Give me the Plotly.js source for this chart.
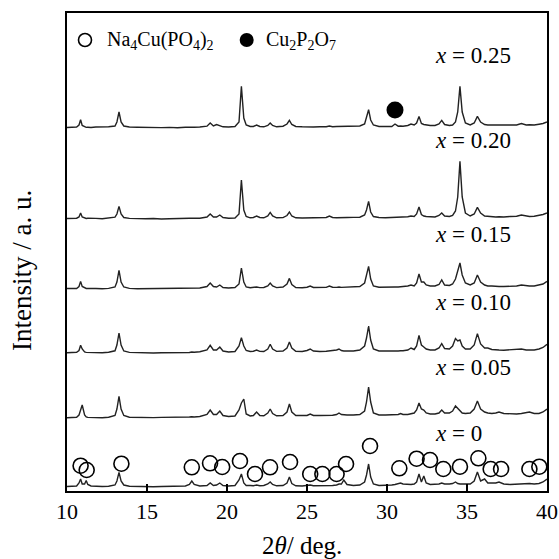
<!DOCTYPE html>
<html>
<head>
<meta charset="utf-8">
<script src="https://cdn.plot.ly/plotly-3.0.1.min.js"></script>
<style>html,body{margin:0;padding:0;background:#fff;}#chart{width:559px;height:559px;}</style>
</head>
<body>
<div id="chart"></div>
<script>
// 2-theta positions (deg) shared by all patterns
const twoTheta = [
 10.0, 10.3, 10.6, 10.75, 10.85, 10.95, 11.1, 11.2, 11.3, 11.5,
 11.8, 12.2, 12.6, 13.0, 13.12, 13.25, 13.38, 13.55, 13.9, 14.4,
 14.9, 15.4, 15.9, 16.4, 16.9, 17.4, 17.65, 17.8, 17.95, 18.3,
 18.75, 18.95, 19.15, 19.35, 19.55, 19.75, 20.1, 20.5, 20.75, 20.9,
 21.05, 21.2, 21.45, 21.65, 21.85, 22.05, 22.3, 22.55, 22.7, 22.85,
 23.1, 23.5, 23.75, 23.9, 24.05, 24.3, 24.7, 25.0, 25.2, 25.4,
 25.8, 26.2, 26.4, 26.6, 26.85, 27.0, 27.15, 27.3, 27.5, 27.9,
 28.3, 28.6, 28.72, 28.85, 28.98, 29.15, 29.5, 29.9, 30.3, 30.5,
 30.7, 30.85, 31.0, 31.3, 31.5, 31.7, 31.85, 32.0, 32.15, 32.3,
 32.45, 32.7, 33.0, 33.25, 33.42, 33.6, 33.9, 34.1, 34.28, 34.42,
 34.56, 34.7, 34.9, 35.2, 35.45, 35.65, 35.85, 36.1, 36.3, 36.55,
 36.8, 37.0, 37.3, 37.7, 38.1, 38.4, 38.7, 38.9, 39.2, 39.5,
 39.75, 40.0
];

// Intensities (a.u.) of each pattern
const int_x000 = [
 0.5, 0.8, 1, 4, 8, 3, 3, 6.5, 2.5, 1,
 0.6, 0.5, 0.8, 2, 6, 14.6, 6, 2, 0.8, 0.5,
 0.6, 0.3, 0.5, 0.6, 0.4, 1, 2.5, 6, 2.5, 1,
 1.5, 4, 1.5, 2, 4, 1.5, 1, 1.5, 7, 13,
 4, 1.5, 1.5, 1.2, 2, 1.2, 1.5, 3, 5, 2.5,
 1.2, 1.5, 4, 10, 3.5, 1.2, 1, 1.2, 2, 1.2,
 1.2, 1.3, 1.5, 1.5, 2, 3, 3, 7, 2.5, 1.5,
 2, 5, 12, 23, 10, 3, 1.5, 1.5, 2, 2.5,
 3, 4, 3, 2.5, 2.5, 3, 5, 13, 5, 11,
 4, 2.5, 2.5, 3, 4, 3, 3, 3.5, 5, 3.5,
 3, 3, 3, 3, 6, 15, 6, 8, 4, 4,
 4, 5, 3, 2.5, 3, 3, 3.5, 3.5, 3, 3.5,
 5, 8
];
const int_x005 = [
 0.3, 0.5, 0.8, 3, 9, 13, 3, 1, 0.6, 0.4,
 0.5, 0.3, 0.8, 2.5, 9, 21.6, 9, 2.5, 0.8, 0.5,
 0.6, 0.4, 0.6, 0.5, 0.7, 0.8, 1, 1.2, 1, 1.5,
 3.5, 8, 3.5, 3.5, 7, 2.5, 1.5, 2, 8, 15,
 19, 4, 2, 2.5, 6, 2.5, 2.2, 5, 9, 4.5,
 2.2, 2.5, 6, 14, 6, 2.5, 2.2, 2.5, 4, 2.5,
 2.5, 2.5, 2.8, 2.8, 3.5, 5, 3.5, 3, 3, 3,
 3.5, 7, 16, 31, 16, 5, 3, 3, 3, 3,
 3.5, 4.5, 3.5, 3.5, 4, 5, 8, 15, 9, 8,
 5, 4, 4, 5, 8, 5, 5, 7, 12, 10,
 8, 5, 4.5, 5, 9, 17, 9, 6, 5, 4.5,
 5, 6, 4.5, 4, 4, 4.5, 5, 6, 4.5, 4.5,
 6, 9
];
const int_x010 = [
 0.3, 0.6, 0.8, 2.5, 7.7, 4, 1, 0.6, 0.5, 0.4,
 0.6, 0.3, 0.8, 2.2, 8, 20, 8, 2, 0.6, 0.2,
 0.4, 0, 0.3, 0.2, 0.4, 0.6, 0.5, 1, 0.8, 1.2,
 3, 7.7, 3, 3, 6, 2, 1, 1.5, 7, 15.4,
 7, 2.5, 1.5, 1.8, 3, 1.6, 1.5, 4, 8.7, 4,
 1.6, 2, 5, 11, 5, 1.8, 1.5, 2.5, 4, 2,
 1.5, 1.8, 2, 2, 3, 4, 2.5, 2, 2, 2,
 3, 7, 15, 27, 13, 4, 2, 1.8, 2, 2,
 2, 2.2, 2.2, 3, 5, 3.5, 7, 17.7, 8, 6,
 4, 3, 3, 5, 9.4, 4.5, 4, 7, 14.4, 12,
 13, 7, 4, 4, 8, 19.4, 9, 5, 5, 3.5,
 3, 3, 2.8, 3, 3.5, 4, 3, 3, 3, 4,
 5.5, 8.7
];
const int_x015 = [
 0.5, 0.8, 0.5, 2.5, 7.6, 2.5, 0.8, 0.5, 0.6, 0.3,
 0.5, 0.3, 0.6, 2, 7, 18.6, 7, 2, 0.6, 0.3,
 0.4, 0.2, 0.4, 0, 0.4, 0.3, 0.6, 1, 0.6, 1,
 2.5, 6, 2.5, 2, 4, 1.5, 1.0, 1.5, 5, 21,
 7, 2, 1.2, 1.5, 2, 1.4, 1.5, 3, 6, 3,
 1.4, 2, 5, 10.6, 4.5, 1.5, 1.2, 1.8, 3, 1.5,
 1.3, 1.6, 3, 1.8, 1.6, 2, 1.6, 1.8, 1.8, 2,
 2.5, 6, 13, 22.6, 10, 3, 1.8, 1.6, 1.8, 2,
 2, 2.2, 2, 3, 4, 3, 6, 15, 7, 7,
 4, 3, 3, 4.5, 9, 4, 3.5, 5, 10, 18,
 26, 14, 6, 4, 6, 14, 7, 4, 3, 3,
 2.5, 2.5, 2.5, 2.8, 3, 4, 3, 3, 3, 4,
 5, 7.6
];
const int_x020 = [
 0.5, 0.3, 0.8, 2, 6, 2, 0.8, 0.5, 0.7, 0.4,
 0.6, 0.3, 0.8, 1.8, 5, 12.6, 5, 1.5, 0.6, 0.3,
 0.2, 0.5, 0, 0.3, 0.2, 0.5, 0.7, 0.8, 0.6, 0.8,
 2, 5, 2, 2, 4, 1.5, 0.8, 1.0, 5, 39,
 9, 2.5, 1.2, 1.5, 3, 1.5, 1.2, 3, 6.6, 3,
 1.2, 1.4, 3.5, 7, 3, 1.2, 1.0, 1.2, 1.5, 1.0,
 1.2, 1.5, 3, 1.5, 1.3, 1.5, 1.2, 1.4, 1.5, 1.6,
 1.8, 4, 9, 17.6, 7, 2.5, 1.5, 1.3, 1.5, 1.8,
 1.6, 2, 1.8, 2.2, 3, 2.5, 5, 12, 4.5, 3,
 2.5, 2.2, 2.0, 3.5, 6, 3, 2.5, 3.5, 8, 22,
 57.6, 22, 6, 3, 5, 11.6, 6, 3, 2.5, 2.5,
 2.0, 2.2, 2.0, 2.5, 2.8, 4, 2.8, 2.5, 2.8, 3.5,
 4.5, 6
];
const int_x025 = [
 0.5, 0.8, 1.0, 3, 8.3, 2.5, 1.0, 0.6, 0.8, 0.5,
 1.0, 0.8, 1.2, 2.0, 6, 16, 6, 2.0, 1.0, 0.8,
 0.5, 0.8, 0.4, 0.6, 0.3, 0.8, 0.6, 0.9, 0.7, 1.0,
 1.8, 5, 2, 3.5, 2.5, 1.2, 1.0, 1.5, 6, 41.6,
 10, 3, 1.5, 1.5, 3, 1.5, 1.2, 2.5, 5, 2.5,
 1.2, 1.8, 4, 7.6, 3.5, 1.5, 1.2, 1.0, 1.5, 1.0,
 1.3, 1.2, 2, 1.2, 1.5, 1.6, 1.4, 1.5, 1.8, 1.5,
 2, 4, 10, 18.3, 8, 3, 1.5, 1.2, 1.5, 4,
 1.8, 2, 1.8, 2.5, 4, 3, 5, 11.6, 4.5, 3.5,
 3, 2.5, 2.5, 4, 7.6, 3.5, 2.5, 3, 6, 16,
 41.6, 16, 5, 3, 5, 11.6, 6, 3.5, 3, 3,
 2.5, 2.5, 2.5, 2.8, 3, 4.5, 3, 3.2, 3, 3.8,
 4.5, 6
];

const compLabels = ["0", "0.05", "0.10", "0.15", "0.20", "0.25"];
const stackOffsets = [4, 73, 138, 202, 272, 363];
const labelY = [58, 124, 189, 257, 351, 436];

// Na4Cu(PO4)2 reflections marked on x = 0
const naCuPeakX = [10.85, 11.23, 13.4, 17.8, 18.94, 19.7, 20.81, 21.75, 22.69, 23.94,
  25.2, 25.96, 26.85, 27.44, 28.94, 30.77, 31.85, 32.69, 33.52, 34.56,
  35.71, 36.48, 37.13, 38.9, 39.52];
const naCuPeakY = [25.3, 21, 27.3, 23.7, 27.7, 24, 30, 17, 23.7, 29,
  17, 17, 17, 27, 45, 22.7, 32.3, 31, 22, 24.3,
  32.7, 22, 22, 22, 24.3];
// Cu2P2O7 reflection marked on x = 0.25
const cuPPeakX = [30.5];
const cuPPeakY = [381];

const series = [int_x000, int_x005, int_x010, int_x015, int_x020, int_x025];
const serif = "Liberation Serif";

const traces = series.map((s, i) => ({
  x: twoTheta,
  y: s.map(v => v + stackOffsets[i]),
  type: "scatter", mode: "lines",
  line: {color: "#222", width: 1.4},
  showlegend: false, hoverinfo: "skip"
}));

traces.push({
  x: naCuPeakX, y: naCuPeakY, type: "scatter", mode: "markers",
  marker: {symbol: "circle-open", size: 15, color: "#000", line: {width: 1.6, color: "#000"}},
  showlegend: false, hoverinfo: "skip", cliponaxis: false
});
traces.push({
  x: cuPPeakX, y: cuPPeakY, type: "scatter", mode: "markers",
  marker: {symbol: "circle", size: 17, color: "#000"},
  showlegend: false, hoverinfo: "skip"
});
// legend symbols
traces.push({
  x: [11.125], y: [451], type: "scatter", mode: "markers",
  marker: {symbol: "circle-open", size: 13, color: "#000", line: {width: 1.6, color: "#000"}},
  showlegend: false, hoverinfo: "skip"
});
traces.push({
  x: [21.23], y: [451], type: "scatter", mode: "markers",
  marker: {symbol: "circle", size: 14, color: "#000"},
  showlegend: false, hoverinfo: "skip"
});

const annotations = compLabels.map((c, i) => ({
  x: 32.88, y: labelY[i], xref: "x", yref: "y",
  text: "<i>x</i> = " + c, showarrow: false,
  xanchor: "left", yanchor: "middle",
  font: {family: serif, size: 23, color: "#000"}
}));
annotations.push({
  x: 12.375, y: 451, xref: "x", yref: "y", showarrow: false,
  xanchor: "left", yanchor: "middle",
  text: "Na<sub>4</sub>Cu(PO<sub>4</sub>)<sub>2</sub>",
  font: {family: serif, size: 20, color: "#000"}
});
annotations.push({
  x: 22.31, y: 451, xref: "x", yref: "y", showarrow: false,
  xanchor: "left", yanchor: "middle",
  text: "Cu<sub>2</sub>P<sub>2</sub>O<sub>7</sub>",
  font: {family: serif, size: 20, color: "#000"}
});
annotations.push({
  x: 0.489, y: -0.114, xref: "paper", yref: "paper", showarrow: false,
  xanchor: "center", yanchor: "middle",
  text: "2<i>θ</i>/ deg.",
  font: {family: serif, size: 25, color: "#000"}
});
annotations.push({
  x: -0.094, y: 0.462, xref: "paper", yref: "paper", showarrow: false,
  xanchor: "center", yanchor: "middle", textangle: -90,
  text: "Intensity / a. u.",
  font: {family: serif, size: 27, color: "#000"}
});

const layout = {
  width: 559, height: 559,
  margin: {l: 67, r: 12, t: 13, b: 68},
  paper_bgcolor: "#fff", plot_bgcolor: "#fff",
  showlegend: false,
  font: {family: serif, color: "#000"},
  xaxis: {
    range: [10, 40], tickvals: [10, 15, 20, 25, 30, 35, 40],
    ticktext: ["10", "15", "20", "25", "30", "35", "40"],
    ticks: "inside", ticklen: 7, tickwidth: 2, tickcolor: "#000",
    showline: true, linewidth: 2, linecolor: "#000", mirror: true,
    showgrid: false, zeroline: false,
    tickfont: {family: serif, size: 22, color: "#000"}
  },
  yaxis: {
    range: [0, 478], showticklabels: false, ticks: "",
    showline: true, linewidth: 2, linecolor: "#000", mirror: true,
    showgrid: false, zeroline: false
  },
  annotations: annotations
};

Plotly.newPlot("chart", traces, layout, {staticPlot: true, displayModeBar: false});
</script>
</body>
</html>
